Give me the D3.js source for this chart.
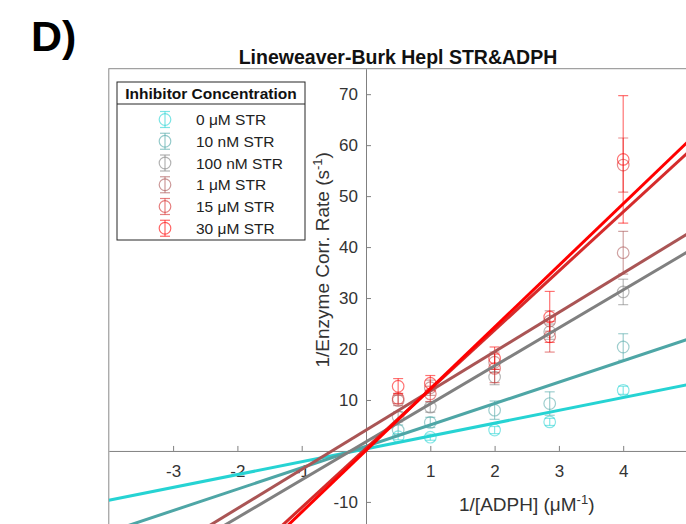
<!DOCTYPE html>
<html>
<head>
<meta charset="utf-8">
<script src="https://cdnjs.cloudflare.com/ajax/libs/d3/7.8.5/d3.min.js"></script>
<style>
  body { margin: 0; background: #fff; }
  text { font-family: "Liberation Sans", Arial, sans-serif; }
</style>
</head>
<body>
<script>
// x values: 1/[ADPH] (uM^-1)
invADPH = [0.5, 1, 2, 2.857, 4];

seriesNames = ["0 μM STR", "10 nM STR", "100 nM STR", "1 μM STR", "15 μM STR", "30 μM STR"];

// 1/enzyme rate means (s^-1), one array per inhibitor level
rate0uM   = [2.8, 2.7, 4.1, 5.7, 11.9];
rate10nM  = [4.1, 5.6, 8.0, 9.3, 20.4];
rate100nM = [6.7, 8.6, 14.5, 23.4, 31.2];
rate1uM   = [9.9, 12.4, 17.4, 25.5, 38.9];
rate15uM  = [10.3, 11.2, 16.2, 22.4, 56.1];
rate30uM  = [12.7, 13.3, 18.2, 26.3, 57.2];

// error bar half widths
err0uM   = [0.6, 0.6, 0.7, 0.7, 0.8];
err10nM  = [1.0, 1.0, 1.8, 2.3, 2.6];
err100nM = [1.0, 1.0, 1.5, 1.5, 2.5];
err1uM   = [1.0, 1.5, 2.0, 2.0, 4.2];
err15uM  = [1.0, 1.5, 2.8, 3.0, 5.3];
err30uM  = [1.5, 1.5, 2.2, 5.0, 12.5];

// linear fit of each series (slope, intercept)
fitSlope     = [2.52, 4.2, 7.45, 7.7, 11.6, 12.1];
fitIntercept = [0.4, 0.9, 1.8, 4.1, 0.5, 0.1];

xTicks = [-3, -2, -1, 1, 2, 3, 4];
yTicks = [-10, 10, 20, 30, 40, 50, 60, 70];

rates = [rate0uM, rate10nM, rate100nM, rate1uM, rate15uM, rate30uM];
errs  = [err0uM, err10nM, err100nM, err1uM, err15uM, err30uM];
colors = ["#26d3d3", "#4ea6a6", "#808080", "#aa5555", "#d52b2b", "#ff0000"];

w = 686;
h = 524;

svg = d3.select("body")
  .append("svg")
    .attr("width", w)
    .attr("height", h);

x = d3.scaleLinear().domain([-4, 5]).range([108.8, 687.5]);
y = d3.scaleLinear().domain([-15, 75]).range([527.4, 68.7]);

svg.append("clipPath").attr("id", "clip")
  .append("rect")
    .attr("x", x(-4)).attr("y", y(75))
    .attr("width", x(5) - x(-4)).attr("height", y(-15) - y(75));

// box around axes
svg.append("rect")
  .attr("x", x(-4)).attr("y", y(75))
  .attr("width", x(5) - x(-4)).attr("height", y(-15) - y(75))
  .attr("fill", "none")
  .attr("stroke", "#8a8a8a")
  .attr("stroke-width", 1);

// axes through the origin
xAxis = svg.append("g")
  .attr("transform", "translate(0," + y(0) + ")")
  .call(d3.axisBottom(x).tickValues(xTicks).tickSizeInner(-5).tickSizeOuter(0).tickPadding(14)
    .tickFormat(d3.format("d")));
yAxis = svg.append("g")
  .attr("transform", "translate(" + x(0) + ",0)")
  .call(d3.axisLeft(y).tickValues(yTicks).tickSizeInner(-5).tickSizeOuter(0).tickPadding(8)
    .tickFormat(d3.format("d")));

svg.selectAll(".domain, .tick line").attr("stroke", "#808080");
svg.selectAll(".tick text")
  .attr("fill", "#333")
  .style("font-size", "17px")
  .style("font-family", "'Liberation Sans', Arial, sans-serif")
  .text(d => d < 0 ? "-" + Math.abs(d) : d);

plot = svg.append("g").attr("clip-path", "url(#clip)");

// error bars and markers
rates.forEach((r, s) => {
  pts = r.map((v, i) => ({x: invADPH[i], y: v, e: errs[s][i]}));
  g = plot.append("g")
    .attr("stroke", colors[s])
    .attr("stroke-opacity", 0.55)
    .attr("fill", "none")
    .attr("stroke-width", 1.2);
  g.selectAll(".bar").data(pts).enter().append("line")
    .attr("x1", d => x(d.x)).attr("x2", d => x(d.x))
    .attr("y1", d => y(d.y - d.e)).attr("y2", d => y(d.y + d.e));
  g.selectAll(".capTop").data(pts).enter().append("line")
    .attr("x1", d => x(d.x) - 5).attr("x2", d => x(d.x) + 5)
    .attr("y1", d => y(d.y + d.e)).attr("y2", d => y(d.y + d.e));
  g.selectAll(".capBot").data(pts).enter().append("line")
    .attr("x1", d => x(d.x) - 5).attr("x2", d => x(d.x) + 5)
    .attr("y1", d => y(d.y - d.e)).attr("y2", d => y(d.y - d.e));
  g.selectAll("circle").data(pts).enter().append("circle")
    .attr("cx", d => x(d.x)).attr("cy", d => y(d.y))
    .attr("r", 5.8);
});

// fitted lines
fitSlope.forEach((m, s) => {
  plot.append("line")
    .attr("x1", x(-4)).attr("y1", y(m * -4 + fitIntercept[s]))
    .attr("x2", x(5)).attr("y2", y(m * 5 + fitIntercept[s]))
    .attr("stroke", colors[s])
    .attr("stroke-width", 3);
});

// title and labels
svg.append("text")
  .attr("x", 398).attr("y", 64)
  .attr("text-anchor", "middle")
  .style("font-size", "19.5px").style("font-weight", "bold")
  .attr("fill", "#111")
  .text("Lineweaver-Burk Hepl STR&ADPH");

svg.append("text")
  .attr("x", 31).attr("y", 51)
  .style("font-size", "43px").style("font-weight", "bold")
  .attr("fill", "#000")
  .text("D)");

xl = svg.append("text")
  .attr("x", x(2.5)).attr("y", 511)
  .attr("text-anchor", "middle")
  .style("font-size", "19px")
  .attr("fill", "#333");
xl.append("tspan").text("1/[ADPH] (μM");
xl.append("tspan").attr("dy", -7).style("font-size", "13px").text("-1");
xl.append("tspan").attr("dy", 7).text(")");

yl = svg.append("text")
  .attr("transform", "translate(329," + y(37.5) + ") rotate(-90)")
  .attr("text-anchor", "middle")
  .style("font-size", "19px")
  .attr("fill", "#333");
yl.append("tspan").text("1/Enzyme Corr. Rate (s");
yl.append("tspan").attr("dy", -7).style("font-size", "13px").text("-1");
yl.append("tspan").attr("dy", 7).text(")");

// legend
legend = svg.append("g");
legend.append("rect")
  .attr("x", 117).attr("y", 82).attr("width", 188).attr("height", 158)
  .attr("fill", "#fff").attr("stroke", "#262626").attr("stroke-width", 1);
legend.append("line")
  .attr("x1", 117).attr("x2", 305).attr("y1", 104).attr("y2", 104)
  .attr("stroke", "#262626");
legend.append("text")
  .attr("x", 211).attr("y", 99)
  .attr("text-anchor", "middle")
  .style("font-size", "15.5px").style("font-weight", "bold")
  .attr("fill", "#111")
  .text("Inhibitor Concentration");

seriesNames.forEach((name, s) => {
  cy = 119.5 + s * 21.75;
  lg = legend.append("g")
    .attr("stroke", colors[s]).attr("stroke-opacity", 0.6)
    .attr("fill", "none").attr("stroke-width", 1.2);
  lg.append("line").attr("x1", 165).attr("x2", 165).attr("y1", cy - 8).attr("y2", cy + 8);
  lg.append("line").attr("x1", 160).attr("x2", 170).attr("y1", cy - 8).attr("y2", cy - 8);
  lg.append("line").attr("x1", 160).attr("x2", 170).attr("y1", cy + 8).attr("y2", cy + 8);
  lg.append("circle").attr("cx", 165).attr("cy", cy).attr("r", 5.8);
  legend.append("text")
    .attr("x", 196).attr("y", cy + 5.5)
    .style("font-size", "15.5px")
    .attr("fill", "#222")
    .text(name);
});
</script>
</body>
</html>
